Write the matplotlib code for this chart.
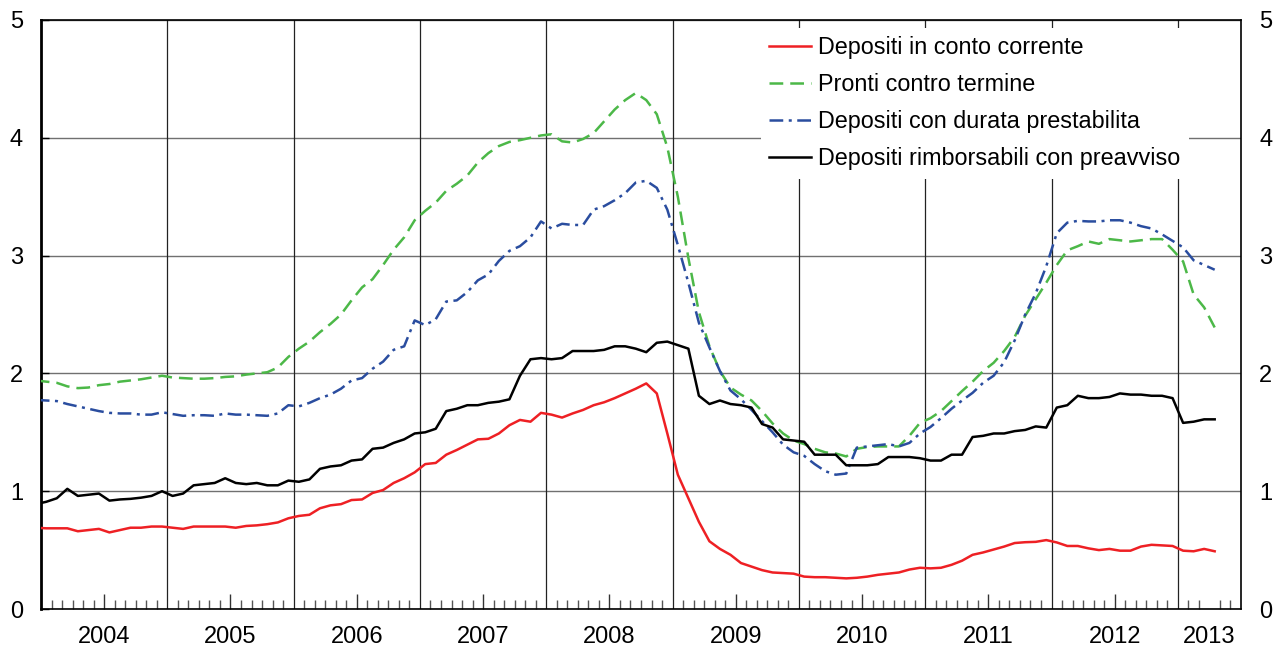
import matplotlib
matplotlib.use('Agg')
import matplotlib.pyplot as plt
import numpy as np
import pandas as pd

plt.rcParams['font.family'] = ['Liberation Sans', 'DejaVu Sans']

# mesi: da dicembre 2003 ad aprile 2013 (valori mensili)
mesi = pd.period_range('2003-12', '2013-04', freq='M')

depositi_cc = [
    0.69,
    0.685, 0.685, 0.685, 0.66, 0.67, 0.68, 0.65, 0.67, 0.69, 0.69, 0.70, 0.70,
    0.69, 0.68, 0.70, 0.70, 0.70, 0.70, 0.69, 0.705, 0.71, 0.72, 0.735, 0.77,
    0.79, 0.80, 0.855, 0.88, 0.89, 0.925, 0.93, 0.985, 1.01, 1.07, 1.11, 1.16,
    1.23, 1.24, 1.31, 1.35, 1.395, 1.44, 1.445, 1.49, 1.56, 1.605, 1.59, 1.665,
    1.65, 1.625, 1.66, 1.69, 1.73, 1.755, 1.79, 1.83, 1.87, 1.915, 1.83, 1.49,
    1.14, 0.94, 0.74, 0.575, 0.51, 0.46, 0.39, 0.36, 0.33, 0.31, 0.305, 0.30,
    0.275, 0.27, 0.27, 0.265, 0.26, 0.265, 0.275, 0.29, 0.30, 0.31, 0.335, 0.35,
    0.345, 0.35, 0.375, 0.41, 0.46, 0.48, 0.505, 0.53, 0.56, 0.567, 0.57, 0.585,
    0.565, 0.535, 0.535, 0.515, 0.50, 0.51, 0.495, 0.495, 0.53, 0.545, 0.54, 0.535,
    0.495, 0.49, 0.51, 0.49,
]

pronti_ct = [
    1.94,
    1.93, 1.92, 1.89, 1.875, 1.88, 1.90, 1.91, 1.93, 1.94, 1.95, 1.965, 1.98,
    1.965, 1.96, 1.955, 1.955, 1.96, 1.97, 1.975, 1.99, 2.00, 2.01, 2.05, 2.14,
    2.21, 2.27, 2.35, 2.42, 2.50, 2.62, 2.73, 2.80, 2.92, 3.05, 3.155, 3.30,
    3.38, 3.45, 3.55, 3.61, 3.68, 3.79, 3.87, 3.93, 3.965, 3.98, 4.00, 4.02,
    4.03, 3.97, 3.96, 3.99, 4.04, 4.14, 4.24, 4.32, 4.38, 4.32, 4.20, 3.92,
    3.50, 2.98, 2.52, 2.23, 2.02, 1.88, 1.82, 1.77, 1.68, 1.575, 1.49, 1.43,
    1.40, 1.36, 1.33, 1.32, 1.295, 1.36, 1.375, 1.38, 1.38, 1.38, 1.47, 1.58,
    1.62, 1.68, 1.765, 1.85, 1.93, 2.02, 2.09, 2.19, 2.31, 2.49, 2.63, 2.77,
    2.92, 3.045, 3.08, 3.12, 3.10, 3.14, 3.13, 3.12, 3.13, 3.14, 3.14, 3.05,
    2.95, 2.67, 2.56, 2.39,
]

depositi_durata = [
    1.775,
    1.77, 1.765, 1.74, 1.72, 1.70, 1.68, 1.665, 1.66, 1.66, 1.65, 1.65, 1.67,
    1.655, 1.64, 1.645, 1.645, 1.64, 1.66, 1.65, 1.65, 1.645, 1.64, 1.66, 1.73,
    1.72, 1.75, 1.79, 1.82, 1.87, 1.94, 1.96, 2.04, 2.10, 2.20, 2.23, 2.45,
    2.41, 2.46, 2.61, 2.62, 2.69, 2.79, 2.84, 2.955, 3.04, 3.08, 3.155, 3.29,
    3.23, 3.27, 3.26, 3.26, 3.39, 3.42, 3.47, 3.53, 3.62, 3.635, 3.575, 3.39,
    3.09, 2.77, 2.43, 2.22, 2.02, 1.855, 1.78, 1.69, 1.595, 1.50, 1.395, 1.33,
    1.30, 1.23, 1.17, 1.14, 1.15, 1.37, 1.38, 1.39, 1.40, 1.38, 1.41, 1.49,
    1.545, 1.62, 1.70, 1.77, 1.835, 1.92, 1.98, 2.095, 2.28, 2.50, 2.68, 2.91,
    3.19, 3.28, 3.295, 3.29, 3.29, 3.30, 3.30, 3.28, 3.25, 3.23, 3.18, 3.125,
    3.07, 2.96, 2.92, 2.88,
]

depositi_preavviso = [
    0.89,
    0.91, 0.94, 1.02, 0.96, 0.97, 0.98, 0.92, 0.93, 0.935, 0.945, 0.96, 1.00,
    0.96, 0.98, 1.05, 1.06, 1.07, 1.11, 1.07, 1.06, 1.07, 1.05, 1.05, 1.09,
    1.08, 1.10, 1.19, 1.21, 1.22, 1.26, 1.27, 1.36, 1.37, 1.41, 1.44, 1.49,
    1.50, 1.53, 1.68, 1.70, 1.73, 1.73, 1.75, 1.76, 1.78, 1.98, 2.12, 2.13,
    2.12, 2.13, 2.19, 2.19, 2.19, 2.20, 2.23, 2.23, 2.21, 2.18, 2.26, 2.27,
    2.24, 2.21, 1.81, 1.74, 1.77, 1.74, 1.73, 1.71, 1.57, 1.54, 1.44, 1.43,
    1.42, 1.31, 1.31, 1.31, 1.22, 1.22, 1.22, 1.23, 1.29, 1.29, 1.29, 1.28,
    1.26, 1.26, 1.31, 1.31, 1.46, 1.47, 1.49, 1.49, 1.51, 1.52, 1.55, 1.54,
    1.71, 1.73, 1.81, 1.79, 1.79, 1.80, 1.83, 1.82, 1.82, 1.81, 1.81, 1.79,
    1.58, 1.59, 1.61, 1.61,
]

anni = ['2004', '2005', '2006', '2007', '2008', '2009', '2010', '2011', '2012', '2013']

# posizione sull'asse: mesi da gennaio 2004, a metà mese
x = np.array([(p.year - 2004) * 12 + p.month - 1 for p in mesi]) + 0.5
fine = 12 * (len(anni) - 1) + 6  # fine giugno 2013

fig = plt.figure(figsize=(12.75, 6.5), dpi=100)
ax = fig.add_axes([41 / 1275, 41 / 650, 1200 / 1275, 589 / 650])

ax.plot(x, depositi_cc, color='#ee2024', lw=1.8, label='Depositi in conto corrente', zorder=5)
ax.plot(x, pronti_ct, color='#4cb848', lw=1.8, linestyle=(0, (5.5, 2.8)),
        label='Pronti contro termine', zorder=4)
ax.plot(x, depositi_durata, color='#2a4d9f', lw=1.8, linestyle=(0, (5.5, 2.2, 1.2, 2.2)),
        label='Depositi con durata prestabilita', zorder=4)
ax.plot(x, depositi_preavviso, color='black', lw=1.8,
        label='Depositi rimborsabili con preavviso', zorder=5)

ax.set_xlim(0, fine)
ax.set_ylim(0, 5)

# griglia
ax.set_yticks(range(6))
ax.yaxis.grid(True, color='#707070', lw=1.0, zorder=1)
for i in range(1, len(anni)):
    ax.axvline(12 * i, color='#222222', lw=0.9, zorder=1)
ax.set_axisbelow(True)

# asse x: anni al centro, tacche mensili
centri = [12 * i + 6 for i in range(len(anni) - 1)] + [(12 * (len(anni) - 1) + fine) / 2]
ax.set_xticks(centri)
ax.set_xticklabels(anni)
ax.set_xticks([m for m in range(1, fine) if m % 12 not in (0, 6)], minor=True)
ax.tick_params(axis='x', which='major', direction='in', length=11, width=1, pad=12,
               labelsize=17, color='#333333')
ax.tick_params(axis='x', which='minor', direction='in', length=6.5, width=1, color='#555555')
ax.xaxis.get_major_ticks()[-1].tick1line.set_visible(False)

ax.tick_params(axis='y', which='major', direction='in', length=6, width=1, pad=13,
               labelsize=17, left=True, right=False, labelleft=True, labelright=True)

for lato in ['top', 'right', 'bottom']:
    ax.spines[lato].set_linewidth(1.2)
ax.spines['left'].set_linewidth(2)

leg = ax.legend(loc='upper left', bbox_to_anchor=((761 - 41) / 1200, (609 - 28) / 589),
                borderaxespad=0, fontsize=16.8, frameon=True, facecolor='white',
                edgecolor='none', framealpha=1, fancybox=False, handlelength=1.8,
                handletextpad=0.3, labelspacing=0.6, borderpad=0.36)
leg.set_zorder(10)

fig.savefig('out.png', dpi=100)
